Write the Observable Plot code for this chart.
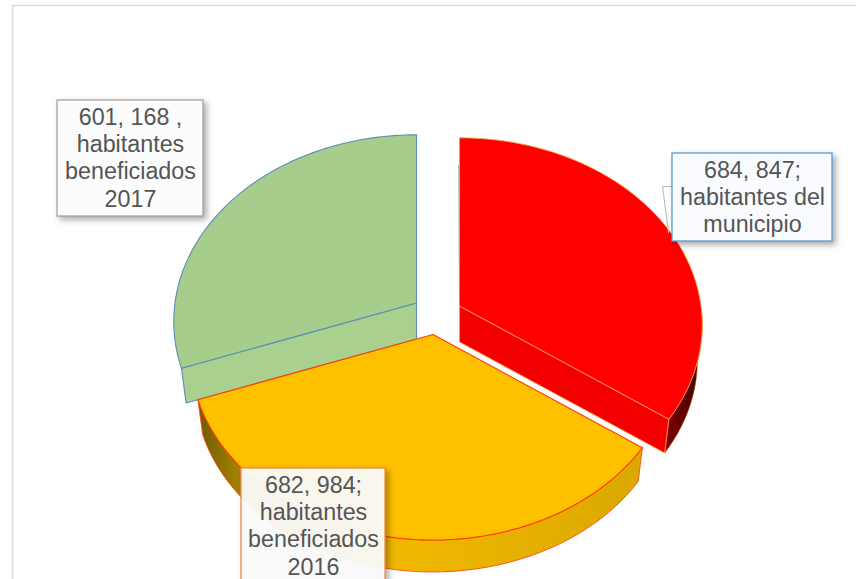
<!DOCTYPE html>
<html lang="es">
<head>
<meta charset="utf-8">
<script src="https://cdn.jsdelivr.net/npm/d3@7"></script>
<script src="https://cdn.jsdelivr.net/npm/@observablehq/plot@0.6"></script>
<style>
html,body{margin:0;padding:0;background:#fff;overflow:hidden}
</style>
</head>
<body>
<div id="chart"></div>
<script>
// Data
const categories = ["habitantes del municipio", "habitantes beneficiados 2016", "habitantes beneficiados 2017"];
const values = [684847, 682984, 601168];
const valueTexts = ["684, 847;", "682, 984;", "601, 168 ,"];

// Geometry of the tilted, exploded pie (chart units)
const centres = [{x: 459, y: 305.5}, {x: 432.5, y: 334}, {x: 416, y: 302.5}];
const RX = 241.5, RY = 185, PERSPECTIVE = 0.1, DEPTH = 36, FLOOR_SCALE = 0.98;

const total = d3.sum(values);
let acc = 0;
const slices = values.map((v, i) => {
  const a0 = acc / total * 2 * Math.PI;
  acc += v;
  return {a0, a1: acc / total * 2 * Math.PI, c: centres[i]};
});

function rimPoint(theta, c, floor) {
  const X = Math.sin(theta), Y = -Math.cos(theta), s = 1 / (1 - PERSPECTIVE * Y);
  const k = floor ? FLOOR_SCALE : 1;
  return {x: c.x + k * RX * X * s, y: c.y + (floor ? DEPTH : 0) + k * RY * Y * s};
}
function arc(a0, a1, c, floor) {
  const n = Math.max(2, Math.ceil(Math.abs(a1 - a0) / (Math.PI / 180)));
  return d3.range(n + 1).map(i => rimPoint(a0 + (a1 - a0) * i / n, c, floor));
}
const apex = (c, floor) => ({x: c.x, y: c.y + (floor ? DEPTH : 0)});
const closed = pts => [...pts, pts[0]];

const topFace = s => closed([apex(s.c, false), ...arc(s.a0, s.a1, s.c, false)]);
const wall = (s, a) => closed([apex(s.c, false), rimPoint(a, s.c, false), rimPoint(a, s.c, true), apex(s.c, true)]);
const side = (s, a0, a1) => closed([...arc(a0, a1, s.c, false), ...arc(a1, a0, s.c, true)]);

const poly = (pts, fill, stroke, strokeWidth) =>
  Plot.line(pts, {x: "x", y: "y", fill, stroke, strokeWidth, curve: "linear"});

const [red, orange, green] = slices;

const gradients = () => {
  const defs = d3.create("svg:defs");
  const grad = (id, x1, x2, stops) => {
    const g = defs.append("linearGradient").attr("id", id)
      .attr("gradientUnits", "userSpaceOnUse")
      .attr("x1", x1).attr("x2", x2).attr("y1", 0).attr("y2", 0);
    stops.forEach(([o, c]) => g.append("stop").attr("offset", o).attr("stop-color", c));
  };
  grad("goldSide", 197, 643, [[0, "#6E5A00"], [0.1, "#A88600"], [0.2, "#DCAA00"], [0.45, "#F0B800"], [1, "#DAA800"]]);
  grad("redSide", 660, 700, [[0, "#8A0000"], [0.6, "#5C0000"], [1, "#3A0000"]]);
  return defs.node();
};

// Callouts
const boxes = [
  {x1: 672, x2: 832, y1: 153, y2: 241, fill: "#F9FBFE", stroke: "#5B9BD5"},
  {x1: 57, x2: 203, y1: 100, y2: 216, fill: "#FCFCFC", stroke: "#A5A5A5"}
];
const orangeBox = [{x1: 241, x2: 385, y1: 468, y2: 595, fill: "#FFFFFF", stroke: "#F08A4B"}];
const labelTexts = [
  `${valueTexts[0]}\nhabitantes del\nmunicipio`,
  `${valueTexts[2]}\nhabitantes\nbeneficiados\n2017`,
  `${valueTexts[1]}\nhabitantes\nbeneficiados\n2016`
];
const labels = [...boxes, ...orangeBox].map((b, i) => ({
  x: (b.x1 + b.x2) / 2,
  y: b.y1 + 5,
  text: labelTexts[i]
}));
const shadow = "drop-shadow(3px 3px 3px rgba(0,0,0,0.35))";
const leader = [{x: 672, y: 186}, {x: 662, y: 186}, {x: 668, y: 232}];
const redEdge = [{x: 458, y: 165}, {x: 459, y: 305}];
const box = (data, fillOpacity) => Plot.rect(data, {x1: "x1", x2: "x2", y1: "y1", y2: "y2", fill: "fill", stroke: "stroke",
  strokeWidth: 1.3, fillOpacity, imageFilter: shadow});

const plot = Plot.plot({
  width: 856,
  height: 579,
  margin: 0,
  x: {domain: [0, 856], range: [0, 856], axis: null},
  y: {domain: [0, 579], range: [0, 579], axis: null},
  marks: [
    gradients,
    Plot.ruleX([12], {y1: 5, y2: 579, stroke: "#DCDCDC", strokeWidth: 1.5}),
    Plot.ruleY([5], {x1: 12, x2: 856, stroke: "#DCDCDC", strokeWidth: 1.5}),

    // 2017 slice
    poly(wall(green, green.a0), "#A9D08E", "#5B8DB8", 1.1),
    poly(topFace(green), "#A6CD8B", "#5B8DB8", 1.1),

    // municipality slice
    poly(side(red, Math.PI / 2 + 0.05, red.a1), "url(#redSide)", "#C84B00", 0.6),
    poly(wall(red, red.a1), "#F20000", "#FFA040", 0.9),
    poly(topFace(red), "#FF0000", "#FFA040", 0.9),
    Plot.line(redEdge, {x: "x", y: "y", stroke: "#7F9A9A", strokeWidth: 1, strokeOpacity: 0.6}),

    // 2016 slice
    poly(side(orange, orange.a0, orange.a1), "url(#goldSide)", "#FF4A1A", 0.9),
    poly(topFace(orange), "#FFC000", "#FF3C00", 1.1),

    // callouts
    Plot.line(leader, {x: "x", y: "y", stroke: "#BDBDBD", strokeWidth: 1.2}),
    box(boxes, 1),
    box(orangeBox, 0.93),
    Plot.text(labels, {x: "x", y: "y", text: "text", fontSize: 23.3, lineHeight: 1.17, lineAnchor: "top",
      textAnchor: "middle", fill: "#555555", fontFamily: "'Liberation Sans', Arial, sans-serif"})
  ]
});
document.getElementById("chart").append(plot);
</script>
</body>
</html>
